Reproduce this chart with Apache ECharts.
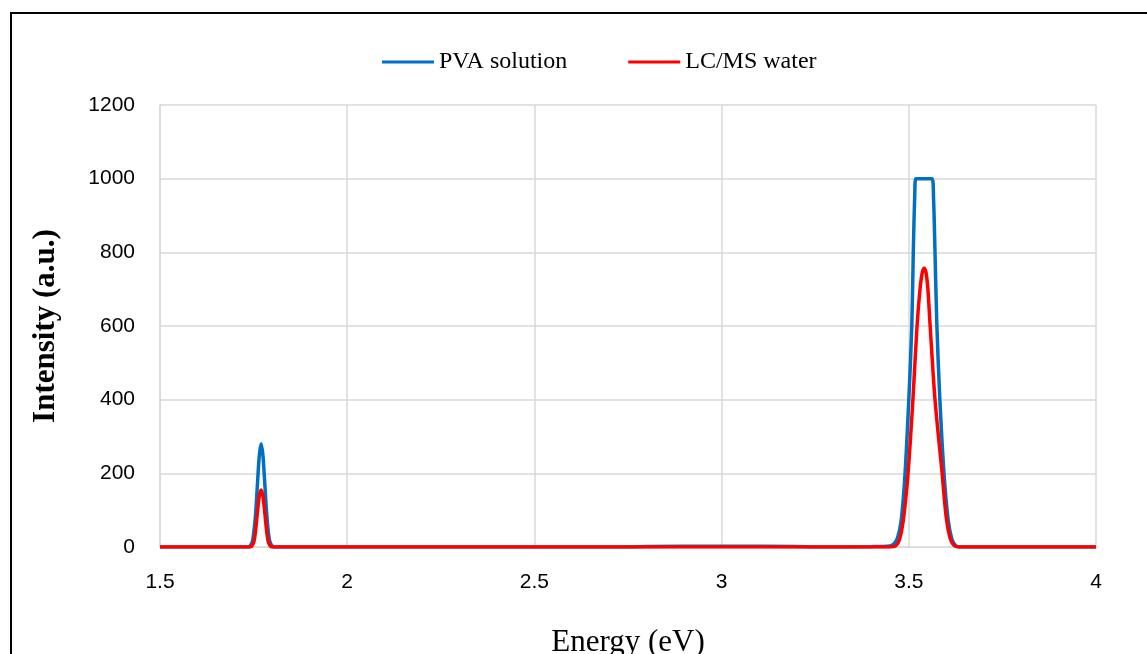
<!DOCTYPE html>
<html>
<head>
<meta charset="utf-8">
<script src="https://cdn.jsdelivr.net/npm/echarts@6/dist/echarts.min.js"></script>
<style>html,body{margin:0;padding:0;background:#fff}#c{width:1147px;height:654px}</style>
</head>
<body>
<div id="c"></div>
<script>
const seriesNames = ['PVA solution', 'LC/MS water'];
const xTicks = [1.5, 2, 2.5, 3, 3.5, 4];
const yTicks = [0, 200, 400, 600, 800, 1000, 1200];

const pvaEnergy = [1.5, 1.735, 1.745, 1.75, 1.755, 1.76, 1.765, 1.77, 1.775, 1.78, 1.785, 1.79, 1.795, 1.805,
  2.75, 2.8, 3.0, 3.2, 3.25, 3.40, 3.45, 3.46, 3.47, 3.48, 3.49, 3.50, 3.508, 3.512, 3.516, 3.519,
  3.562, 3.566, 3.570, 3.575, 3.583, 3.594, 3.605, 3.615, 3.625, 3.635, 4.0];
const pvaIntensity = [0, 0, 10, 35, 85, 165, 245, 280, 248, 170, 90, 35, 10, 0,
  0, 1.5, 2, 1.5, 0, 1, 3, 8, 25, 75, 200, 400, 600, 800, 960, 1000,
  1000, 950, 800, 600, 400, 200, 75, 22, 4, 0, 0];

const lcEnergy = [1.5, 1.74, 1.75, 1.755, 1.76, 1.765, 1.77, 1.775, 1.78, 1.785, 1.79, 1.80,
  3.45, 3.465, 3.475, 3.485, 3.498, 3.511, 3.522, 3.530, 3.536, 3.541, 3.546, 3.551, 3.557,
  3.570, 3.589, 3.600, 3.610, 3.620, 3.632, 4.0];
const lcIntensity = [0, 0, 12, 42, 92, 137, 155, 137, 92, 42, 12, 0,
  0, 3, 20, 70, 200, 400, 600, 700, 745, 757, 745, 700, 600,
  400, 200, 80, 25, 5, 0, 0];

const pvaData = pvaEnergy.map((e, i) => [e, pvaIntensity[i]]);
const lcData = lcEnergy.map((e, i) => [e, lcIntensity[i]]);

const chart = echarts.init(document.getElementById('c'), null, {renderer: 'canvas'});
chart.setOption({
  animation: false,
  backgroundColor: '#fff',
  graphic: [{
    type: 'rect', z: 100, silent: true,
    shape: {x: 11, y: 13, width: 1200, height: 700},
    style: {fill: 'none', stroke: '#000', lineWidth: 2}
  }],
  legend: {
    left: 377, top: 45,
    itemWidth: 52, itemHeight: 3, itemGap: 61,
    icon: 'rect',
    textStyle: {fontFamily: 'Liberation Serif', fontSize: 24, color: '#000'},
    data: seriesNames
  },
  grid: {left: 160, right: 51, top: 105, bottom: 107, containLabel: false, outerBoundsMode: 'none'},
  xAxis: {
    type: 'value', min: 1.5, max: 4, interval: 0.5,
    name: 'Energy (eV)', nameLocation: 'middle', nameGap: 80,
    nameTextStyle: {fontFamily: 'Liberation Serif', fontSize: 31, color: '#000'},
    axisLine: {show: true, onZero: false, lineStyle: {color: '#d9d9d9', width: 1}},
    axisTick: {show: false},
    axisLabel: {fontFamily: 'Liberation Sans', fontSize: 21, color: '#000', margin: 25},
    splitLine: {show: true, lineStyle: {color: '#d9d9d9', width: 1.5}}
  },
  yAxis: {
    type: 'value', min: 0, max: 1200, interval: 200,
    name: 'Intensity (a.u.)', nameLocation: 'middle', nameGap: 99,
    nameTextStyle: {fontFamily: 'Liberation Serif', fontSize: 31, fontWeight: 'bold', color: '#000'},
    axisLine: {show: true, lineStyle: {color: '#d9d9d9', width: 1.5}},
    axisTick: {show: false},
    axisLabel: {fontFamily: 'Liberation Sans', fontSize: 21, color: '#000', margin: 25,
      formatter: v => String(v)},
    splitLine: {show: true, lineStyle: {color: '#d9d9d9', width: 1.5}}
  },
  series: [
    {name: seriesNames[0], type: 'line', data: pvaData, smooth: 0.3, showSymbol: false,
     lineStyle: {color: '#0070C0', width: 3.5}, itemStyle: {color: '#0070C0'}},
    {name: seriesNames[1], type: 'line', data: lcData, smooth: 0.3, showSymbol: false,
     lineStyle: {color: '#FF0000', width: 3.5}, itemStyle: {color: '#FF0000'}}
  ]
});
</script>
</body>
</html>
